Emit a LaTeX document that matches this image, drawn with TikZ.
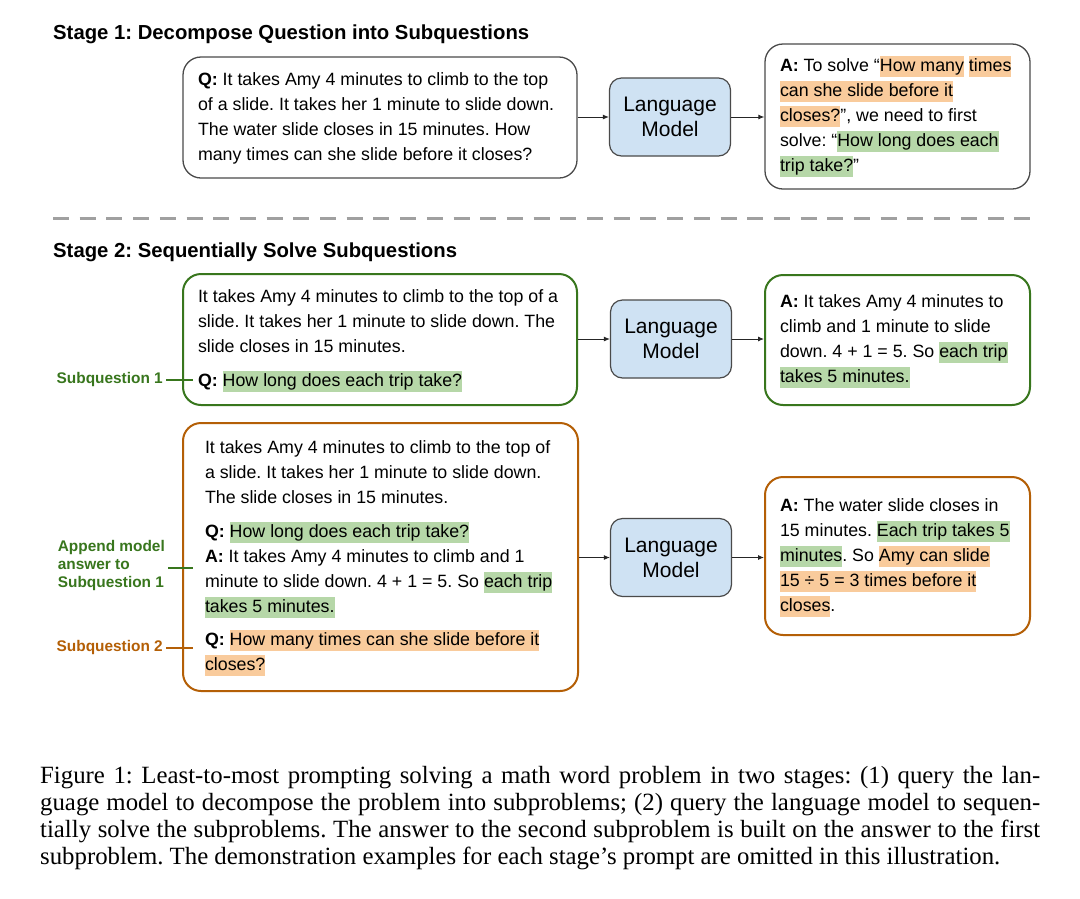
\documentclass[tikz,border=0pt]{standalone}
\usepackage{fontspec}
\setmainfont{Liberation Sans}
\newfontfamily\capfont{Liberation Serif}
\usetikzlibrary{arrows.meta}
\frenchspacing
\definecolor{dgreen}{HTML}{38761D}
\definecolor{dorange}{HTML}{B45F06}
\definecolor{hlgreen}{HTML}{B6D7A8}
\definecolor{hlorange}{HTML}{F9CB9C}
\definecolor{lmblue}{HTML}{CFE2F3}
\definecolor{bordergray}{HTML}{4A4A4A}
\definecolor{dashgray}{HTML}{A0A0A0}
\newcommand\hlg[1]{{\setlength{\fboxsep}{0pt}\colorbox{hlgreen}{\rule[-5.5pt]{0pt}{21pt}#1}}}
\newcommand\hlo[1]{{\setlength{\fboxsep}{0pt}\colorbox{hlorange}{\rule[-5.5pt]{0pt}{21pt}#1}}}
\newcommand\txtlines[2]{\makebox[#1][l]{\begin{tabular}{@{}l@{}}#2\end{tabular}}}
\newcommand\bodyfont{\fontsize{17.8}{25}\selectfont}
\newcommand\lmfont{\fontsize{21}{25}\selectfont}
\newcommand\labfont{\fontsize{15.4}{18}\selectfont\bfseries}
\newcommand\capsize{\capfont\fontsize{24.8}{27.3}\selectfont}
\tikzset{
  box/.style={draw=bordergray, line width=1.3pt, rounded corners=18pt, inner xsep=15pt, inner ysep=0pt, font=\bodyfont},
  gbox/.style={box, draw=dgreen, line width=2pt},
  obox/.style={box, draw=dorange, line width=2pt},
  lmbox/.style={draw=bordergray, line width=1.2pt, fill=lmblue, rounded corners=12pt, align=center, font=\lmfont, minimum width=121pt, minimum height=78pt, inner sep=0pt},
  arr/.style={-{Latex[length=6pt,width=5pt]}, line width=0.9pt, draw=black!85},
  header/.style={anchor=base west, inner sep=0pt, font=\fontsize{20.3}{24}\selectfont\bfseries},
  lab/.style={anchor=east, inner sep=3pt, font=\labfont, align=left},
  labline/.style={line width=2pt},
  capline/.style={anchor=base west, inner sep=0pt, font=\capsize},
}
\begin{document}
\begin{tikzpicture}[x=1pt,y=-1pt]
\useasboundingbox (0,0) rectangle (1080,898);
\fill[white] (0,0) rectangle (1080,898);

% Stage 1
\node[header] (h1) at (53,39) {Stage 1: Decompose Question into Subquestions};
\node[box, minimum height=121pt] (q1) at (380,117.5) {\txtlines{364pt}{%
\textbf{Q:} It takes Amy 4 minutes to climb to the top\\
of a slide. It takes her 1 minute to slide down.\\
The water slide closes in 15 minutes. How\\
many times can she slide before it closes?}};
\node[lmbox] (lm1) at (670,117) {Language\\Model};
\node[box, minimum height=145pt] (a1) at (897.5,116.5) {\txtlines{235pt}{%
\textbf{A:} To solve “\hlo{How many} \hlo{times}\\
\hlo{can she slide before it}\\
\hlo{closes?}”, we need to first\\
solve: “\hlg{How long does each}\\
\hlg{trip take?}”}};
\draw[arr] (q1.east |- lm1) -- (lm1.west);
\draw[arr] (lm1.east) -- (a1.west |- lm1);

% separator
\draw[dashgray, line width=3.5pt, dash pattern=on 16pt off 10.7pt] (53,218.5) -- (1033,218.5);

% Stage 2
\node[header] (h2) at (53,257) {Stage 2: Sequentially Solve Subquestions};

\node[gbox, minimum height=131pt] (g1) at (380,339.5) {\txtlines{364pt}{%
It takes Amy 4 minutes to climb to the top of a\\
slide. It takes her 1 minute to slide down. The\\
slide closes in 15 minutes.\\[9pt]
\textbf{Q:} \hlg{How long does each trip take?}}};
\node[lmbox] (lm2) at (671,339) {Language\\Model};
\node[gbox, minimum height=130pt] (a2) at (897.5,340) {\txtlines{235pt}{%
\textbf{A:} It takes Amy 4 minutes to\\
climb and 1 minute to slide\\
down. 4 + 1 = 5. So \hlg{each trip}\\
\hlg{takes 5 minutes.}}};
\draw[arr] (g1.east |- lm2) -- (lm2.west);
\draw[arr] (lm2.east) -- (a2.west |- lm2);

\node[obox, inner xsep=22pt, minimum height=268pt] (o1) at (380.5,557) {\txtlines{351pt}{%
It takes Amy 4 minutes to climb to the top of\\
a slide. It takes her 1 minute to slide down.\\
The slide closes in 15 minutes.\\[9pt]
\textbf{Q:} \hlg{How long does each trip take?}\\
\textbf{A:} It takes Amy 4 minutes to climb and 1\\
minute to slide down. 4 + 1 = 5. So \hlg{each trip}\\
\hlg{takes 5 minutes.}\\[8pt]
\textbf{Q:} \hlo{How many times can she slide before it}\\
\hlo{closes?}}};
\node[lmbox] (lm3) at (671,557.5) {Language\\Model};
\node[obox, minimum height=158pt] (a3) at (897.5,556) {\txtlines{235pt}{%
\textbf{A:} The water slide closes in\\
15 minutes. \hlg{Each trip takes 5}\\
\hlg{minutes}. So \hlo{Amy can slide}\\
\hlo{15 ÷ 5 = 3 times before it}\\
\hlo{closes}.}};
\draw[arr] (o1.east |- lm3) -- (lm3.west);
\draw[arr] (lm3.east) -- (a3.west |- lm3);

% side labels
\node[lab, text=dgreen] (sq1) at (166,380) {Subquestion 1};
\coordinate (sq1end) at (193,380);
\draw[dgreen, labline] (sq1.east) -- (sq1end);

\node[lab, text=dgreen] (app) at (168,566) {Append model\\answer to\\Subquestion 1};
\coordinate (append) at (193,568);
\draw[dgreen, labline] (app.east |- append) -- (append);

\node[lab, text=dorange] (sq2) at (166,648) {Subquestion 2};
\coordinate (sq2end) at (193,648);
\draw[dorange, labline] (sq2.east) -- (sq2end);

% caption
\node[capline] (c1) at (40,783) {\makebox[1000pt][s]{Figure 1: Least-to-most prompting solving a math word problem in two stages: (1) query the lan-}};
\node[capline] (c2) at (40,810.3) {\makebox[1000pt][s]{guage model to decompose the problem into subproblems; (2) query the language model to sequen-}};
\node[capline] (c3) at (40,837.6) {\makebox[1000pt][s]{tially solve the subproblems. The answer to the second subproblem is built on the answer to the first}};
\node[capline] (c4) at (40,864.9) {subproblem. The demonstration examples for each stage’s prompt are omitted in this illustration.};
\end{tikzpicture}
\end{document}
